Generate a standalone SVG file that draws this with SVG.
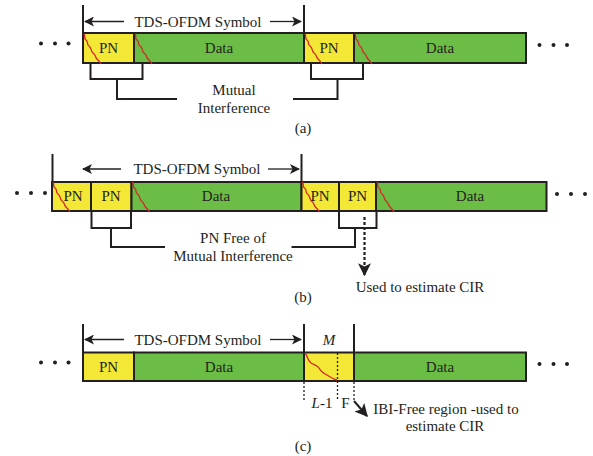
<svg xmlns="http://www.w3.org/2000/svg" width="593" height="456" viewBox="0 0 593 456" font-family="'Liberation Serif', 'DejaVu Serif', serif">
  <style>
    text { font-family: "Liberation Serif", "DejaVu Serif", serif; fill: #231f20; }
    .lbl { font-size: 15px; text-anchor: middle; }
    .pn { fill: #f3e835; stroke: #231f20; stroke-width: 2; }
    .data { fill: #6cbd45; stroke: #231f20; stroke-width: 2; }
    .ln { fill: none; stroke: #231f20; stroke-width: 2; }
    .thin { fill: none; stroke: #231f20; stroke-width: 1.3; }
    .dash { fill: none; stroke: #231f20; stroke-width: 1.3; stroke-dasharray: 2 2; }
    .bdash { fill: none; stroke: #231f20; stroke-width: 2.2; stroke-dasharray: 3 2; }
    .wave { fill: none; stroke: #d4262b; stroke-width: 1.3; }
    .dot { fill: #231f20; }
  </style>
  <defs>
    <marker id="ah" viewBox="0 0 10 10" refX="9" refY="5" markerWidth="10" markerHeight="10" markerUnits="userSpaceOnUse" orient="auto">
      <path d="M0,0 L10,5 L0,10 L2.5,5 Z" fill="#231f20"/>
    </marker>
    <marker id="ahb" viewBox="0 0 10 10" refX="9" refY="5" markerWidth="13" markerHeight="13" markerUnits="userSpaceOnUse" orient="auto">
      <path d="M0,0 L10,5 L0,10 L2.5,5 Z" fill="#231f20"/>
    </marker>
    <path id="w" d="M0,0 c2,2 -1,4 2,6 c3,2 0,4 3,6 c3,2 1,4 4,7 c3,2 2,4 4,6 c2,2 3,3 4,5"/>
  </defs>

  <!-- (a) -->
  <g id="symbols-a">
    <rect class="pn" x="83" y="33" width="51" height="30"/>
    <rect class="data" x="134" y="33" width="170" height="30"/>
    <rect class="pn" x="304" y="33" width="50" height="30"/>
    <rect class="data" x="354" y="33" width="172" height="30"/>
    <use href="#w" class="wave" x="84" y="34"/>
    <use href="#w" class="wave" x="135" y="34"/>
    <use href="#w" class="wave" x="305" y="34"/>
    <use href="#w" class="wave" x="355" y="34"/>
    <text class="lbl" x="108.5" y="53">PN</text>
    <text class="lbl" x="219" y="53">Data</text>
    <text class="lbl" x="329" y="53">PN</text>
    <text class="lbl" x="440" y="53">Data</text>
  </g>
  <g id="connectors-a">
    <line class="ln" x1="83" y1="5" x2="83" y2="33"/>
    <line class="ln" x1="304" y1="5" x2="304" y2="33"/>
    <line class="thin" x1="124" y1="21.5" x2="85" y2="21.5" marker-end="url(#ah)"/>
    <line class="thin" x1="270" y1="21.5" x2="301" y2="21.5" marker-end="url(#ah)"/>
    <polyline class="ln" points="90.5,63 90.5,79 142.5,79 142.5,63"/>
    <polyline class="ln" points="117,79 117,99 177,99"/>
    <polyline class="ln" points="311,63 311,79 363,79 363,63"/>
    <polyline class="ln" points="293,99 337.5,99 337.5,79"/>
  </g>
  <text class="lbl" x="198" y="27">TDS-OFDM Symbol</text>
  <text class="lbl" x="234" y="95">Mutual</text>
  <text class="lbl" x="234" y="113">Interference</text>
  <text class="lbl" x="303" y="133">(a)</text>
  <g id="dots-a">
    <circle class="dot" cx="41" cy="43.5" r="2"/><circle class="dot" cx="55" cy="43.5" r="2"/><circle class="dot" cx="68.5" cy="43.5" r="2"/>
    <circle class="dot" cx="539.5" cy="45" r="2"/><circle class="dot" cx="553.5" cy="45" r="2"/><circle class="dot" cx="567" cy="45" r="2"/>
  </g>

  <!-- (b) -->
  <g id="symbols-b">
    <rect class="pn" x="52" y="182" width="39" height="29"/>
    <rect class="pn" x="91" y="182" width="40.5" height="29"/>
    <rect class="data" x="131.5" y="182" width="170" height="29"/>
    <rect class="pn" x="301.5" y="182" width="37.5" height="29"/>
    <rect class="pn" x="339" y="182" width="37" height="29"/>
    <rect class="data" x="376" y="182" width="170.5" height="29"/>
    <use href="#w" class="wave" x="53" y="182"/>
    <use href="#w" class="wave" x="132.5" y="182"/>
    <use href="#w" class="wave" x="302.5" y="182"/>
    <use href="#w" class="wave" x="377" y="182"/>
    <text class="lbl" x="73" y="201">PN</text>
    <text class="lbl" x="111" y="201">PN</text>
    <text class="lbl" x="216" y="201">Data</text>
    <text class="lbl" x="320" y="201">PN</text>
    <text class="lbl" x="357.5" y="201">PN</text>
    <text class="lbl" x="470" y="201">Data</text>
  </g>
  <g id="connectors-b">
    <line class="ln" x1="52.5" y1="154" x2="52.5" y2="182"/>
    <line class="ln" x1="301.5" y1="154" x2="301.5" y2="182"/>
    <line class="thin" x1="121" y1="169" x2="83" y2="169" marker-end="url(#ah)"/>
    <line class="thin" x1="268" y1="169" x2="299" y2="169" marker-end="url(#ah)"/>
    <polyline class="ln" points="91.5,211 91.5,228 131,228 131,211"/>
    <polyline class="ln" points="111,228 111,247 165,247"/>
    <polyline class="ln" points="339,211 339,228 376.5,228 376.5,211"/>
    <polyline class="ln" points="291.5,247 355,247 355,228"/>
    <line class="bdash" x1="364.5" y1="217" x2="364.5" y2="275" marker-end="url(#ahb)"/>
  </g>
  <text class="lbl" x="197" y="174">TDS-OFDM Symbol</text>
  <text class="lbl" x="233" y="243">PN Free of</text>
  <text class="lbl" x="233" y="261">Mutual Interference</text>
  <text class="lbl" x="420" y="292">Used to estimate CIR</text>
  <text class="lbl" x="303" y="302">(b)</text>
  <g id="dots-b">
    <circle class="dot" cx="17" cy="193" r="2"/><circle class="dot" cx="31" cy="193" r="2"/><circle class="dot" cx="45" cy="193" r="2"/>
    <circle class="dot" cx="557" cy="194" r="2"/><circle class="dot" cx="571" cy="194" r="2"/><circle class="dot" cx="585" cy="194" r="2"/>
  </g>

  <!-- (c) -->
  <g id="symbols-c">
    <rect class="pn" x="83" y="352.5" width="51" height="28.5"/>
    <rect class="data" x="134" y="352.5" width="170" height="28.5"/>
    <rect class="pn" x="304" y="352.5" width="50" height="28.5"/>
    <rect class="data" x="354" y="352.5" width="172" height="28.5"/>
    <path class="wave" d="M305,353 c3,3 2,7 6,10 c3,2 6,2 8,5 c2,4 4,5 8,7 c3,2 6,4 10,5"/>
    <line class="dash" x1="337.5" y1="353" x2="337.5" y2="400"/>
    <text class="lbl" x="108.5" y="372">PN</text>
    <text class="lbl" x="219" y="372">Data</text>
    <text class="lbl" x="440" y="372">Data</text>
  </g>
  <g id="connectors-c">
    <line class="ln" x1="83" y1="324" x2="83" y2="352.5"/>
    <line class="ln" x1="304" y1="324" x2="304" y2="352.5"/>
    <line class="ln" x1="354" y1="324" x2="354" y2="352.5"/>
    <line class="thin" x1="124" y1="339.5" x2="85" y2="339.5" marker-end="url(#ah)"/>
    <line class="thin" x1="270" y1="339.5" x2="301" y2="339.5" marker-end="url(#ah)"/>
    <line class="dash" x1="304" y1="382" x2="304" y2="400"/>
    <line class="dash" x1="354" y1="382" x2="354" y2="400"/>
    <line class="ln" x1="354" y1="401" x2="367" y2="416" marker-end="url(#ahb)"/>
  </g>
  <text class="lbl" x="198" y="345">TDS-OFDM Symbol</text>
  <text class="lbl" x="329" y="345" font-style="italic">M</text>
  <text class="lbl" x="322" y="408"><tspan font-style="italic">L</tspan>-1</text>
  <text class="lbl" x="345.5" y="408">F</text>
  <text class="lbl" x="446" y="414">IBI-Free region -used to</text>
  <text class="lbl" x="445" y="431">estimate CIR</text>
  <text class="lbl" x="303" y="451">(c)</text>
  <g id="dots-c">
    <circle class="dot" cx="41" cy="362.5" r="2"/><circle class="dot" cx="55" cy="362.5" r="2"/><circle class="dot" cx="68.5" cy="362.5" r="2"/>
    <circle class="dot" cx="539.5" cy="364" r="2"/><circle class="dot" cx="553.5" cy="364" r="2"/><circle class="dot" cx="567" cy="364" r="2"/>
  </g>
</svg>
